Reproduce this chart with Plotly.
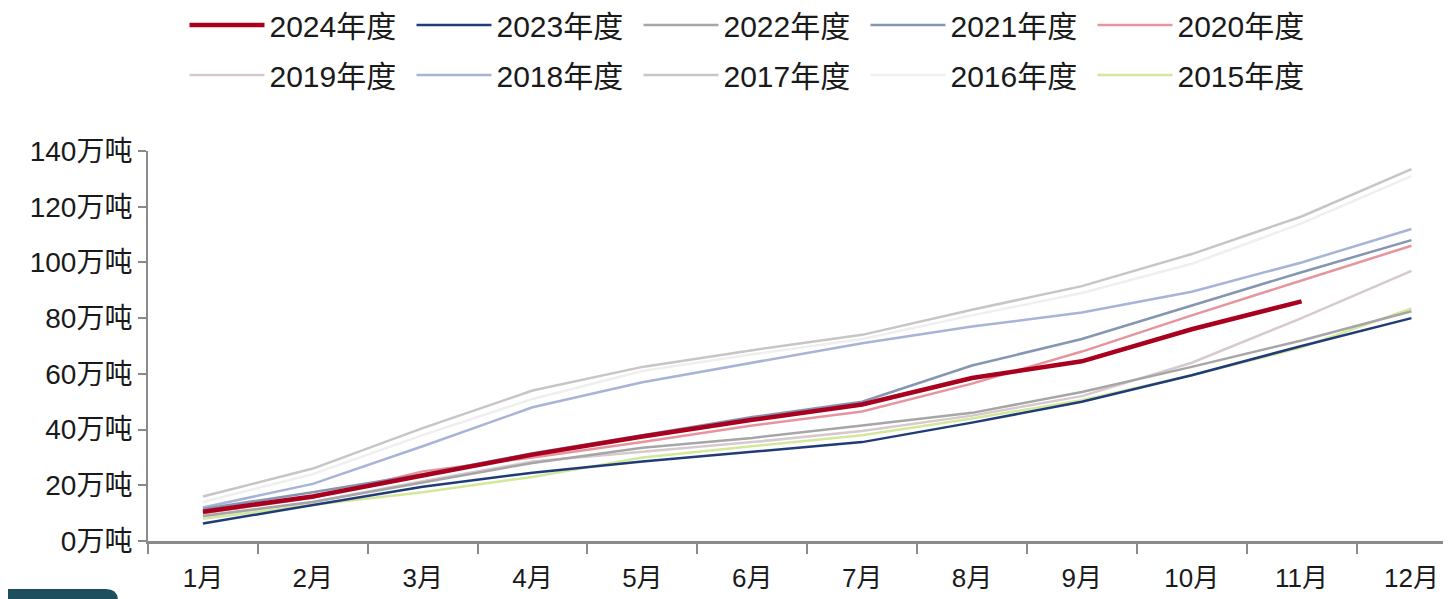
import plotly.graph_objects as go

months = ["1月", "2月", "3月", "4月", "5月", "6月", "7月", "8月", "9月", "10月", "11月", "12月"]

s2024 = [10.5, 16, 23.5, 31, 37.5, 43.5, 49, 58.5, 64.5, 76, 86]
s2023 = [6.3, 13, 19.5, 24.5, 28.5, 32, 35.5, 42.5, 50, 59.5, 70, 80]
s2022 = [9, 14, 21, 28, 33.5, 37, 41.5, 46, 53.5, 62.5, 72, 82.5]
s2021 = [11.5, 17.5, 24, 31.5, 38, 44.5, 50, 63, 72.5, 84.5, 96.5, 108]
s2020 = [10, 15.5, 25, 30, 35.5, 41.5, 46.5, 56.5, 68, 81, 93.5, 106]
s2019 = [9, 14, 21.5, 28.5, 32, 35.5, 39.5, 45, 52, 64, 80, 97]
s2018 = [12, 20.5, 34, 48, 57, 64, 71, 77, 82, 89.5, 100, 112]
s2017 = [16, 26, 40.5, 54, 62.5, 68.5, 74, 83, 91.5, 103, 116.5, 133.5]
s2016 = [14, 24, 38, 51, 61, 67, 72.5, 81, 89, 99.5, 114, 131]
s2015 = [8, 13, 17.5, 23, 30, 34, 38, 44, 50.5, 59.5, 69.5, 83.5]

yticks = [0, 20, 40, 60, 80, 100, 120, 140]
ytick_text = [f"{v}万吨" for v in yticks]

series = [
    ("2024年度", s2024, "#A8001E", 4.5),
    ("2023年度", s2023, "#1F3C78", 2.5),
    ("2022年度", s2022, "#A6A6A6", 2.5),
    ("2021年度", s2021, "#8496B2", 2.5),
    ("2020年度", s2020, "#E6959E", 2.5),
    ("2019年度", s2019, "#D6CACE", 2.5),
    ("2018年度", s2018, "#A7B4D8", 2.5),
    ("2017年度", s2017, "#C6C6C6", 2.5),
    ("2016年度", s2016, "#EFEFEF", 2.5),
    ("2015年度", s2015, "#D3E89A", 2.5),
]

FONT = "Liberation Sans, Noto Sans CJK SC, sans-serif"

fig = go.Figure()
# draw older series first so 2024 is on top
for i in reversed(range(len(series))):
    name, vals, color, w = series[i]
    fig.add_trace(go.Scatter(
        x=months[:len(vals)], y=vals, name=name, mode="lines",
        line=dict(color=color, width=w), legendrank=i + 1,
        legend="legend" if i < 5 else "legend2",
    ))

# page body has an 8px margin; figure sized to fill the viewport
W, H = 1443, 591
ml, mr, mt, mb = 140, 0, 143, 58

leg_common = dict(
    orientation="h", x=0.028, xanchor="left", yref="container", yanchor="middle",
    entrywidth=137, entrywidthmode="pixels", traceorder="normal",
    font=dict(size=30, family=FONT, color="#1a1a1a"), itemwidth=75,
    bgcolor="rgba(0,0,0,0)",
)

fig.update_layout(
    width=W, height=H,
    margin=dict(l=ml, r=mr, t=mt, b=mb, autoexpand=False),
    paper_bgcolor="white", plot_bgcolor="white",
    font=dict(family=FONT, color="#1a1a1a"),
    showlegend=True,
    legend=dict(y=1 - 17 / H, **leg_common),
    legend2=dict(y=1 - 67 / H, **leg_common),
    xaxis=dict(
        type="category", categoryorder="array", categoryarray=months,
        range=[-0.5, 11.36], showgrid=False, zeroline=False,
        showline=True, linecolor="#8a8a8a", linewidth=3,
        ticks="outside", tickson="boundaries", ticklen=10, tickwidth=2, tickcolor="#8a8a8a",
        ticklabelstandoff=12,
        tickfont=dict(size=26, family=FONT, color="#1a1a1a"),
    ),
    yaxis=dict(
        range=[0, 140], tickvals=yticks, ticktext=ytick_text,
        showgrid=False, zeroline=False,
        showline=True, linecolor="#8a8a8a", linewidth=2,
        ticks="outside", ticklen=8, tickwidth=2, tickcolor="#8a8a8a",
        tickfont=dict(size=28, family=FONT, color="#1a1a1a"),
    ),
)

# dark rounded tab at bottom-left corner of the page
pw = W - ml - mr
ph = H - mt - mb
def px_x(p):
    return (p - ml) / pw
def px_y(p):
    return (H - mb - p) / ph
x0, x1, yt, yb, r = px_x(-5), px_x(110), px_y(581), px_y(600), 12
path = (f"M {x0},{yb} L {x0},{yt} L {px_x(110 - r)},{yt} "
        f"Q {x1},{yt} {x1},{px_y(581 + r)} L {x1},{yb} Z")
fig.add_shape(type="path", path=path, xref="paper", yref="paper",
              fillcolor="#1E4F5E", line=dict(width=0), layer="above")

fig.write_html("out.html")
